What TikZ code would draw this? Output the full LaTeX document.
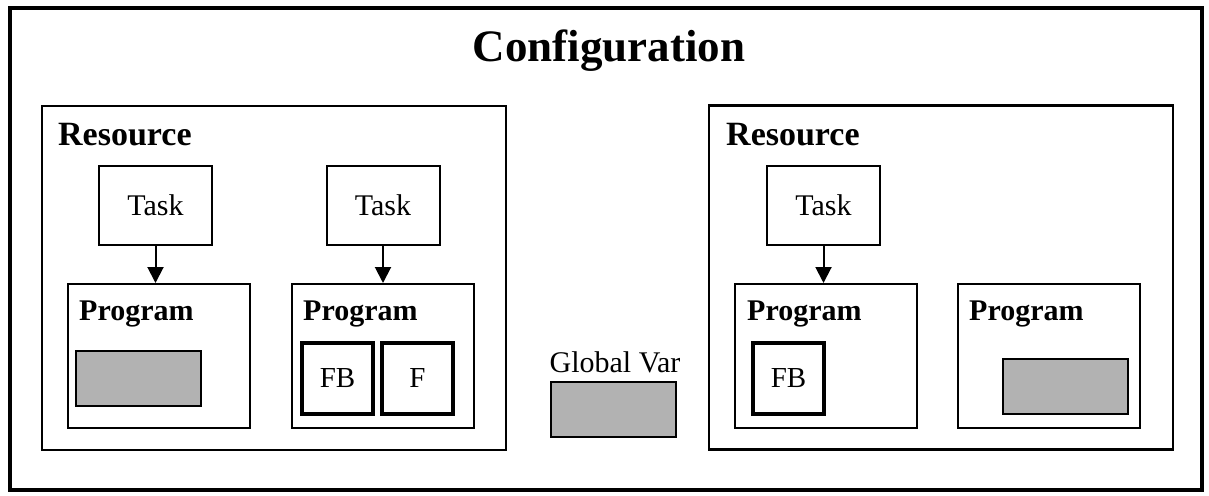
\documentclass[tikz,border=0pt]{standalone}
\usepackage{fontspec}
\setmainfont{Liberation Serif}
\usetikzlibrary{arrows.meta}
\tikzset{
  frame/.style={draw, line width=4pt, minimum width=1192pt, minimum height=482pt, inner sep=0pt},
  resbox/.style={draw, line width=2.6pt, minimum width=464pt, minimum height=344pt, inner sep=0pt},
  taskbox/.style={draw, line width=2pt, minimum width=113pt, minimum height=79pt, inner sep=0pt, font=\fontsize{30}{36}\selectfont},
  progbox/.style={draw, line width=2pt, minimum width=182pt, minimum height=144pt, inner sep=0pt},
  varbox/.style={draw, line width=2pt, fill=black!30, minimum width=125pt, minimum height=55pt, inner sep=0pt},
  fbbox/.style={draw, line width=3.5pt, minimum width=71pt, minimum height=71pt, inner sep=0pt, font=\fontsize{29}{35}\selectfont},
  boldlabel/.style={anchor=base west, inner sep=0pt, font=\fontsize{#1}{#1}\selectfont\bfseries},
  call/.style={-{Triangle[width=16pt,length=16pt]}, line width=2pt}
}
\begin{document}
\begin{tikzpicture}[x=1pt,y=-1pt]
            \useasboundingbox (0,0) rectangle (1209,495);
            % configuration
            \node[frame] (config) at (606,249) {};
            \node[anchor=base, inner sep=0pt, font=\fontsize{45}{45}\selectfont\bfseries] (title) at (609,62) {Configuration};
            % resources
            \node[resbox] (res1) at (274,278) {};
            \node[resbox] (res2) at (941,277.5) {};
            \node[boldlabel=34] (res1lbl) at (58,145) {Resource};
            \node[boldlabel=34] (res2lbl) at (726,145) {Resource};
            % tasks
            \node[taskbox] (task1) at (155.5,205.5) {Task};
            \node[taskbox] (task2) at (383,205.5) {Task};
            \node[taskbox] (task3) at (823.5,205.5) {Task};
            % programs
            \node[progbox] (prog1) at (159,356) {};
            \node[progbox] (prog2) at (382.5,356) {};
            \node[progbox] (prog3) at (826,356) {};
            \node[progbox] (prog4) at (1048.5,356) {};
            \node[boldlabel=30] (prog1lbl) at (79,320) {Program};
            \node[boldlabel=30] (prog2lbl) at (303,320) {Program};
            \node[boldlabel=30] (prog3lbl) at (747,320) {Program};
            \node[boldlabel=30] (prog4lbl) at (969,320) {Program};
            % task -> program
            \draw[call] (task1.south) -- (task1.south |- prog1.north);
            \draw[call] (task2.south) -- (task2.south |- prog2.north);
            \draw[call] (task3.south) -- (task3.south |- prog3.north);
            % contents
            \node[varbox] (var1) at (138.5,378.5) {};
            \node[fbbox] (fb1) at (337.5,378.5) {FB};
            \node[fbbox] (f1) at (417.5,378.5) {F};
            \node[fbbox] (fb2) at (788.5,378.5) {FB};
            \node[varbox] (var2) at (1065.5,386) {};
            % global variable
            \node[varbox] (gvar) at (613.5,409.5) {};
            \node[anchor=base, inner sep=0pt, font=\fontsize{30}{36}\selectfont] (gvarlbl) at (615,372) {Global Var};
          \end{tikzpicture}
\end{document}
